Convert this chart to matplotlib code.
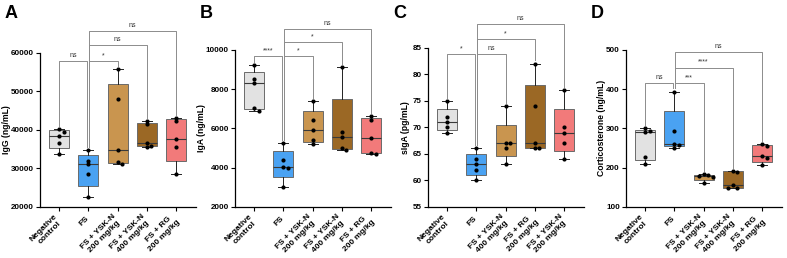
import numpy as np
import matplotlib
matplotlib.use("Agg")
import matplotlib.pyplot as plt

plt.rcParams['font.family'] = ['Liberation Sans', 'DejaVu Sans']
plt.rcParams['font.weight'] = 'bold'

# ---------------- data ----------------
labels_abd = ["Negative\ncontrol", "FS", "FS + YSK-N\n200 mg/kg", "FS + YSK-N\n400 mg/kg", "FS + RG\n200 mg/kg"]
labels_c = ["Negative\ncontrol", "FS", "FS + YSK-N\n400 mg/kg", "FS + RG\n200 mg/kg", "FS + YSK-N\n200 mg/kg"]

igg = [[40200, 39500, 38400, 36500, 33800],
       [34700, 32000, 31200, 28400, 22400],
       [55700, 47900, 34700, 31700, 31100],
       [42200, 41400, 36500, 35800, 35600],
       [43100, 42300, 37500, 35600, 28400]]
iga = [[9240, 8510, 8310, 7030, 6900],
       [5260, 4380, 4020, 3980, 3010],
       [7390, 6410, 5900, 5430, 5200],
       [9140, 5830, 5560, 4980, 4920],
       [6620, 6450, 5520, 4760, 4680]]
siga = [[75, 72, 71, 70, 69],
        [66, 64, 63, 62, 60],
        [74, 67, 67, 66, 63],
        [82, 74, 67, 66, 66],
        [77, 70, 69, 67, 64]]
cort = [[300, 294, 290, 227, 210],
        [394, 294, 259, 257, 251],
        [184, 180, 178, 177, 161],
        [192, 189, 155, 149, 148],
        [259, 255, 229, 224, 206]]

sig_a = [(0, 1, "ns"), (1, 2, "*"), (1, 3, "ns"), (1, 4, "ns")]
sig_b = [(0, 1, "****"), (1, 2, "*"), (1, 3, "*"), (1, 4, "ns")]
sig_c = [(0, 1, "*"), (1, 2, "ns"), (1, 3, "*"), (1, 4, "ns")]
sig_d = [(0, 1, "ns"), (1, 2, "***"), (1, 3, "****"), (1, 4, "ns")]

levels_a = [57900, 57900, 62000, 65700]
levels_b = [9690, 9690, 10390, 11060]
levels_c = [83.75, 83.75, 86.6, 89.5]
levels_d = [415, 415, 455, 496]

ylabels = ["IgG (ng/mL)", "IgA (ng/mL)", "sIgA (pg/mL)", "Corticosterone (ng/mL)"]
yranges = [(20000, 60000, 10000), (2000, 10000, 2000), (55, 85, 5), (100, 500, 100)]
panel_letters = ["A", "B", "C", "D"]

colors = ["#e2e2e2", "#4aa2f2", "#c9954f", "#9b6825", "#f27a7a"]

# ---------------- layout ----------------
W, H = 787, 258
fig = plt.figure(figsize=(W / 100, H / 100), dpi=100)
lefts = [40, 235, 428, 626]
tops = [52.7, 50, 47.7, 50]
ylabel_x = [6.5, 201.5, 405, 601]
bottom_px = 206.7
width_px = 156

datasets = [igg, iga, siga, cort]
sigs = [sig_a, sig_b, sig_c, sig_d]
levels = [levels_a, levels_b, levels_c, levels_d]
xlabels = [labels_abd, labels_abd, labels_c, labels_abd]
XLIM = (-0.65, 4.68)


def swarm_offsets(vals, ypix_per_unit, xpix_per_unit, diam=3.0, step=4.6):
    order = np.argsort(vals)[::-1]
    placed = []
    offs = np.zeros(len(vals))
    for i in order:
        y = vals[i] * ypix_per_unit
        cands = [0]
        for k in range(1, 6):
            cands += [k * step, -k * step]
        for c in cands:
            ok = True
            for (px, py) in placed:
                if np.hypot(px - c, py - y) < diam:
                    ok = False
                    break
            if ok:
                break
        placed.append((c, y))
        offs[i] = c / xpix_per_unit
    return offs


for p in range(4):
    top_px = tops[p]
    ax = fig.add_axes([lefts[p] / W, 1 - bottom_px / H, width_px / W, (bottom_px - top_px) / H])
    data = datasets[p]
    ymin, ymax, ystep = yranges[p]
    hpx = bottom_px - top_px
    ypu = hpx / (ymax - ymin)
    xpu = width_px / (XLIM[1] - XLIM[0])

    stats = []
    for g in data:
        a = np.array(g, dtype=float)
        stats.append(dict(med=np.median(a),
                          q1=np.percentile(a, 25, method="weibull"),
                          q3=np.percentile(a, 75, method="weibull"),
                          whislo=a.min(), whishi=a.max(), fliers=[]))
    bp = ax.bxp(stats, positions=range(5), widths=0.68, capwidths=0.34,
                patch_artist=True, showfliers=False,
                boxprops=dict(linewidth=0.7, edgecolor="#6a6a6a"),
                medianprops=dict(color="#3a3a3a", linewidth=0.8),
                whiskerprops=dict(color="#222222", linewidth=0.7),
                capprops=dict(color="#222222", linewidth=0.7))
    for patch, c in zip(bp["boxes"], colors):
        patch.set_facecolor(c)

    for i, g in enumerate(data):
        a = np.array(g, dtype=float)
        offs = swarm_offsets(a, ypu, xpu)
        ax.scatter(i + offs, a, s=9, color="black", zorder=5, linewidths=0)

    # significance brackets
    gap = 0.02 * (ymax - ymin)
    tick_off = 0.035
    for (i, j, txt), lev in zip(sigs[p], levels[p]):
        xi = i + (tick_off if i == 1 else 0)
        xj = j - (tick_off if j == 1 else 0)
        yi = max(data[i]) + gap
        yj = max(data[j]) + gap
        ax.plot([xi, xi, xj, xj], [yi, lev, lev, yj], color="#8c8c8c",
                linewidth=0.7, clip_on=False, zorder=3)
        ax.text((i + j) / 2, lev + 0.012 * (ymax - ymin), txt, ha="center", va="bottom",
                fontsize=5, fontweight="normal", color="#333333", clip_on=False)

    ax.set_xlim(*XLIM)
    ax.set_ylim(ymin, ymax)
    ax.set_yticks(np.arange(ymin, ymax + ystep / 2, ystep))
    ax.set_xticks(range(5))
    ax.set_xticklabels(xlabels[p], rotation=45, ha="right", va="center",
                       rotation_mode="anchor", multialignment="center",
                       fontsize=6, fontweight="bold")
    for lab in ax.get_yticklabels():
        lab.set_fontsize(5.8)
        lab.set_fontweight("bold")
    ax.tick_params(axis="both", length=3, width=0.8, pad=1.5)
    ax.tick_params(axis="x", pad=5)
    for s in ["top", "right"]:
        ax.spines[s].set_visible(False)
    for s in ["left", "bottom"]:
        ax.spines[s].set_linewidth(0.9)
    ax.set_ylabel(ylabels[p], fontsize=6.2, fontweight="bold", va="center")
    ax.yaxis.set_label_coords(-(lefts[p] - ylabel_x[p]) / width_px, 0.5)

    fig.text((lefts[p] - 35) / W, 1 - 5 / H, panel_letters[p], fontsize=13,
             fontweight="bold", ha="left", va="top")

fig.savefig("out.png", dpi=100)
